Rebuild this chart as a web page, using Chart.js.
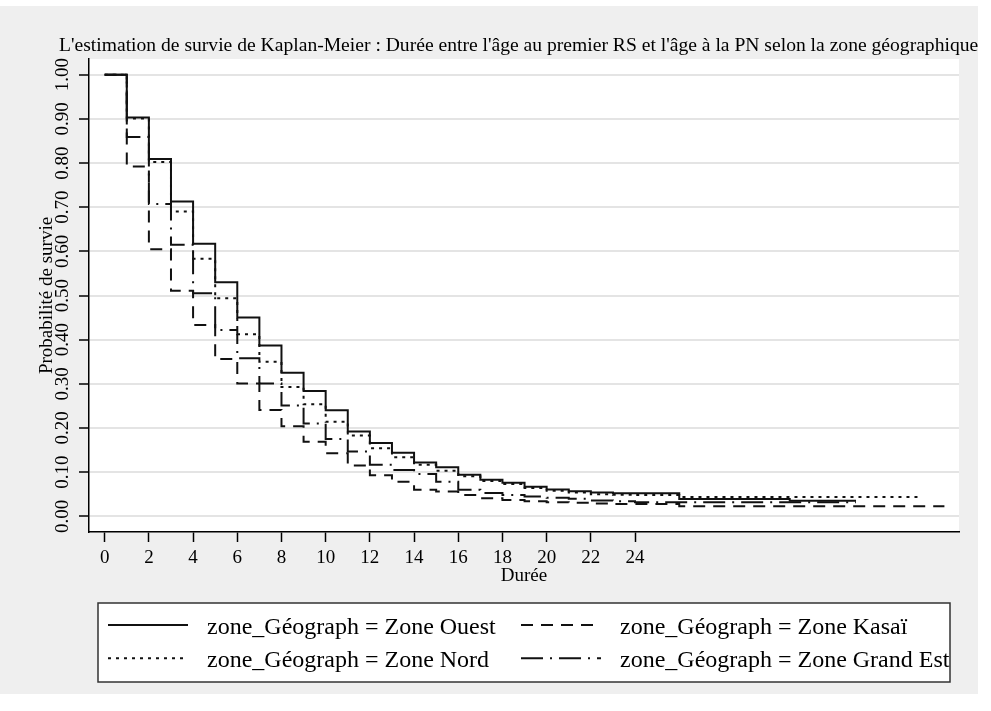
<!DOCTYPE html>
<html lang="fr">
<head>
<meta charset="utf-8">
<title>Kaplan-Meier par zone géographique</title>
<script src="https://cdn.jsdelivr.net/npm/chart.js@4/dist/chart.umd.min.js"></script>
<style>
  body { margin: 0; background: #fff; }
  #cadre { position: absolute; left: 0; top: 6px; width: 978px; height: 688px; background: #efefef; }
</style>
</head>
<body>
<div id="cadre"><canvas id="km"></canvas></div>
<script>
const titre = "L'estimation de survie de Kaplan-Meier : Durée entre l'âge au premier RS et l'âge à la PN selon la zone géographique";

// durées entières 0..24, puis la fin de chaque courbe
const temps = [0, 1, 2, 3, 4, 5, 6, 7, 8, 9, 10, 11, 12, 13, 14, 15, 16, 17, 18, 19, 20, 21, 22, 23, 24];

const survieOuest = [1.000, 0.903, 0.809, 0.713, 0.617, 0.530, 0.450, 0.387, 0.325, 0.284, 0.240, 0.192, 0.166,
  0.144, 0.122, 0.111, 0.094, 0.083, 0.076, 0.067, 0.061, 0.057, 0.054, 0.052, 0.052];
const finTempsOuest = [26, 31, 34];
const finSurvieOuest = [0.039, 0.035, 0.035];

const survieKasai = [1.000, 0.792, 0.605, 0.511, 0.433, 0.356, 0.301, 0.241, 0.204, 0.169, 0.143, 0.115, 0.093,
  0.078, 0.060, 0.056, 0.048, 0.041, 0.037, 0.034, 0.032, 0.031, 0.029, 0.028, 0.028];
const finTempsKasai = [26, 38];
const finSurvieKasai = [0.023, 0.023];

const survieNord = [1.000, 0.901, 0.802, 0.690, 0.583, 0.494, 0.412, 0.350, 0.293, 0.254, 0.214, 0.183, 0.154,
  0.134, 0.117, 0.103, 0.091, 0.080, 0.073, 0.064, 0.058, 0.054, 0.050, 0.049, 0.048];
const finTempsNord = [26, 37];
const finSurvieNord = [0.044, 0.044];

const survieGrandEst = [1.000, 0.859, 0.707, 0.615, 0.505, 0.422, 0.358, 0.301, 0.251, 0.210, 0.175, 0.147, 0.117,
  0.105, 0.096, 0.078, 0.060, 0.053, 0.048, 0.045, 0.042, 0.040, 0.036, 0.034, 0.032];
const finTempsGrandEst = [26, 34];
const finSurvieGrandEst = [0.032, 0.032];

const ticksX = [0, 2, 4, 6, 8, 10, 12, 14, 16, 18, 20, 22, 24];
const ticksY = [0.00, 0.10, 0.20, 0.30, 0.40, 0.50, 0.60, 0.70, 0.80, 0.90, 1.00];

const police = 'Liberation Serif';

function points(surv, finT, finS) {
  return temps.map((t, i) => ({ x: t, y: surv[i] }))
    .concat(finT.map((t, i) => ({ x: t, y: finS[i] })));
}

function courbe(label, data, dash) {
  return {
    label: label,
    data: data,
    borderColor: '#111',
    borderWidth: 2,
    borderDash: dash,
    stepped: true,
    pointRadius: 0,
    fill: false
  };
}

// fond blanc de la zone de tracé
const fondZone = {
  id: 'fondZone',
  beforeDraw(chart) {
    const a = chart.chartArea;
    const ctx = chart.ctx;
    ctx.save();
    ctx.fillStyle = '#fff';
    ctx.fillRect(a.left, a.top, a.right - a.left, a.bottom - a.top);
    ctx.restore();
  }
};

// titre + légende encadrée sur deux colonnes
const titreEtLegende = {
  id: 'titreEtLegende',
  afterDraw(chart) {
    const ctx = chart.ctx;
    ctx.save();
    ctx.fillStyle = '#000';
    ctx.font = '19.6px "' + police + '"';
    ctx.textBaseline = 'alphabetic';
    ctx.fillText(titre, 59, 44.7);

    ctx.fillStyle = '#fff';
    ctx.fillRect(98, 597, 852, 79);
    ctx.strokeStyle = '#333';
    ctx.lineWidth = 1.5;
    ctx.strokeRect(98, 597, 852, 79);

    ctx.font = '24px "' + police + '"';
    chart.data.datasets.forEach((ds, i) => {
      const x0 = i % 2 ? 521 : 108;
      const ligne = i < 2 ? 619 : 652.3;
      const base = i < 2 ? 628 : 661.3;
      ctx.setLineDash(ds.borderDash || []);
      ctx.strokeStyle = ds.borderColor;
      ctx.lineWidth = ds.borderWidth;
      ctx.beginPath();
      ctx.moveTo(x0, ligne);
      ctx.lineTo(x0 + 80, ligne);
      ctx.stroke();
      ctx.setLineDash([]);
      ctx.fillStyle = '#000';
      ctx.fillText(ds.label, x0 + 99, base);
    });
    ctx.restore();
  }
};

new Chart(document.getElementById('km'), {
  type: 'line',
  data: {
    datasets: [
      courbe('zone_Géograph = Zone Ouest', points(survieOuest, finTempsOuest, finSurvieOuest), []),
      courbe('zone_Géograph = Zone Kasaï', points(survieKasai, finTempsKasai, finSurvieKasai), [12, 8]),
      courbe('zone_Géograph = Zone Nord', points(survieNord, finTempsNord, finSurvieNord), [3, 5]),
      courbe('zone_Géograph = Zone Grand Est', points(survieGrandEst, finTempsGrandEst, finSurvieGrandEst), [22, 7, 2, 7])
    ]
  },
  options: {
    responsive: true,
    maintainAspectRatio: false,
    animation: false,
    layout: { padding: { left: 30, right: 19, top: 53, bottom: 102 } },
    plugins: {
      legend: { display: false },
      title: { display: false },
      tooltip: { enabled: false }
    },
    scales: {
      x: {
        type: 'linear',
        min: -0.71,
        max: 38.66,
        afterBuildTicks: s => { s.ticks = ticksX.map(v => ({ value: v })); },
        afterFit: s => { s.height = 60; },
        grid: { drawOnChartArea: false, drawTicks: true, tickLength: 10, tickColor: '#000', tickWidth: 1.5 },
        border: { color: '#000', width: 1.5 },
        ticks: {
          autoSkip: false, maxRotation: 0, padding: 5, color: '#000',
          font: { family: police, size: 19 },
          callback: v => String(v)
        },
        title: {
          display: true, text: 'Durée', color: '#000',
          font: { family: police, size: 19 },
          padding: { top: 0, bottom: 5 }
        }
      },
      y: {
        type: 'linear',
        min: -0.0355,
        max: 1.0355,
        afterBuildTicks: s => { s.ticks = ticksY.map(v => ({ value: v })); },
        afterFit: s => { s.width = 59; },
        grid: { color: '#e4e4e4', lineWidth: 2, tickLength: 10, tickColor: '#000', tickWidth: 1.5 },
        border: { color: '#000', width: 1.5 },
        ticks: {
          autoSkip: false, minRotation: 90, maxRotation: 90, crossAlign: 'center', padding: -1, color: '#000',
          font: { family: police, size: 19 },
          callback: v => v.toFixed(2)
        },
        title: {
          display: true, text: 'Probabilité de survie', color: '#000',
          font: { family: police, size: 19 },
          padding: { top: 5.6, bottom: 0 }
        }
      }
    }
  },
  plugins: [fondZone, titreEtLegende]
});
</script>
</body>
</html>
